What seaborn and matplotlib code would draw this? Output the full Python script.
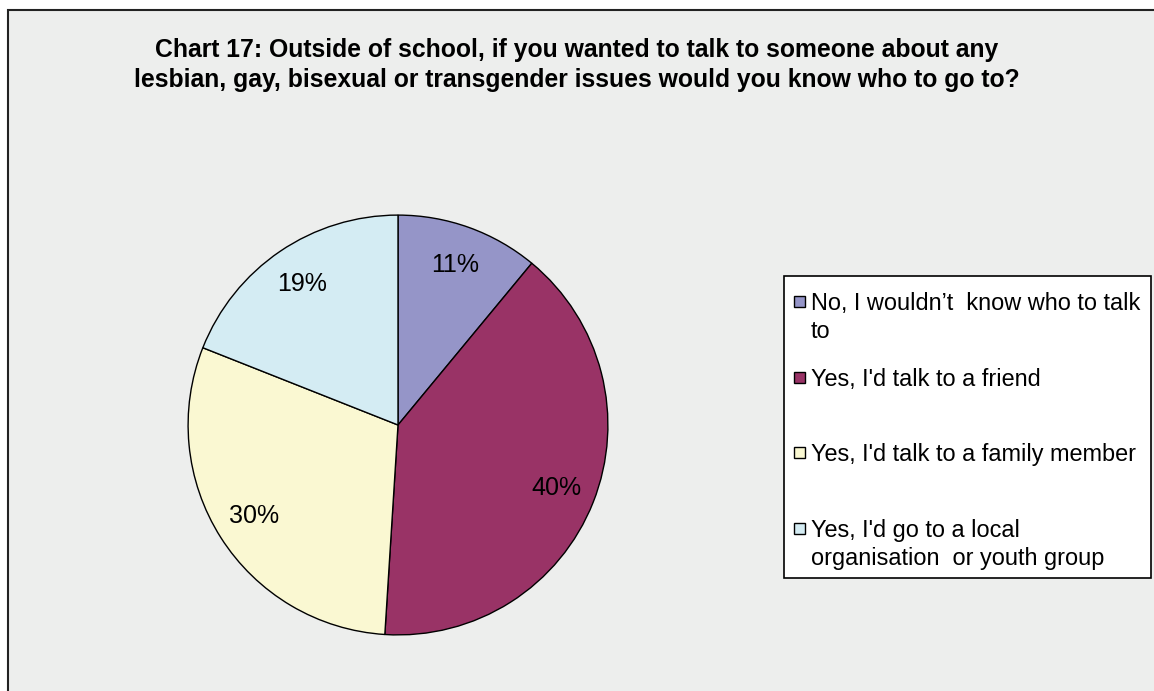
import matplotlib
matplotlib.use("Agg")
import matplotlib.pyplot as plt
from matplotlib.patches import Rectangle
import seaborn as sns

# data
categories = ["No, I wouldn\u2019t  know who to talk\nto",
              "Yes, I'd talk to a friend",
              "Yes, I'd talk to a family member",
              "Yes, I'd go to a local\norganisation  or youth group"]
shares = [11, 40, 30, 19]
colours = ["#9595C8", "#993366", "#FAF8D2", "#D4ECF3"]
title = ("Chart 17: Outside of school, if you wanted to talk to someone about any\n"
         "lesbian, gay, bisexual or transgender issues would you know who to go to?")

sns.set_theme(style="white")
plt.rcParams['font.family'] = ['Liberation Sans', 'DejaVu Sans']

W, H = 1154, 691
fig = plt.figure(figsize=(W / 100, H / 100), dpi=100)
fig.patch.set_facecolor("white")

# chart area background + frame
bg = Rectangle((8 / W, -0.05), 1.1, 1 - 10 / H + 0.05, transform=fig.transFigure,
               facecolor="#EDEEED", edgecolor="#222222", linewidth=1.5, zorder=0)
fig.patches.append(bg)

fig.text(0.5, 1 - 65 / H, title, ha="center", va="center", fontsize=17.8,
         fontweight="bold", linespacing=1.28, color="black")

# pie
cx, cy, r = 398, 425, 212
ax = fig.add_axes([(cx - r) / W, (H - cy - r) / H, 2 * r / W, 2 * r / H])
ax.set_zorder(1)
pal = sns.color_palette(colours)
wedges, texts, autotexts = ax.pie(shares, colors=pal, startangle=90, counterclock=False,
                                  autopct="%1.0f%%", pctdistance=0.81,
                                  wedgeprops=dict(edgecolor="black", linewidth=1.0))
for t in autotexts:
    t.set_fontsize(18)
    t.set_color("black")
ax.set_xlim(-1.01, 1.01)
ax.set_ylim(-1.01, 1.01)
ax.set_aspect("equal")
ax.axis("off")

# legend drawn by hand so each entry sits in an equal slot
box = Rectangle((784 / W, 1 - 578 / H), (1151 - 784) / W, (578 - 276) / H,
                transform=fig.transFigure, facecolor="white", edgecolor="black",
                linewidth=1.2, zorder=2)
fig.patches.append(box)
slot_y = [301, 377, 452, 528]
for lab, col, y in zip(categories, pal, slot_y):
    sq = Rectangle((794 / W, 1 - (y + 5.5) / H), 11 / W, 11 / H, transform=fig.transFigure,
                   facecolor=col, edgecolor="black", linewidth=1.0, zorder=3)
    fig.patches.append(sq)
    fig.text(811 / W, 1 - (y - 9) / H, lab, ha="left", va="top", fontsize=16.9,
             linespacing=1.27, color="black", zorder=4)

fig.savefig("out.png", dpi=100)
